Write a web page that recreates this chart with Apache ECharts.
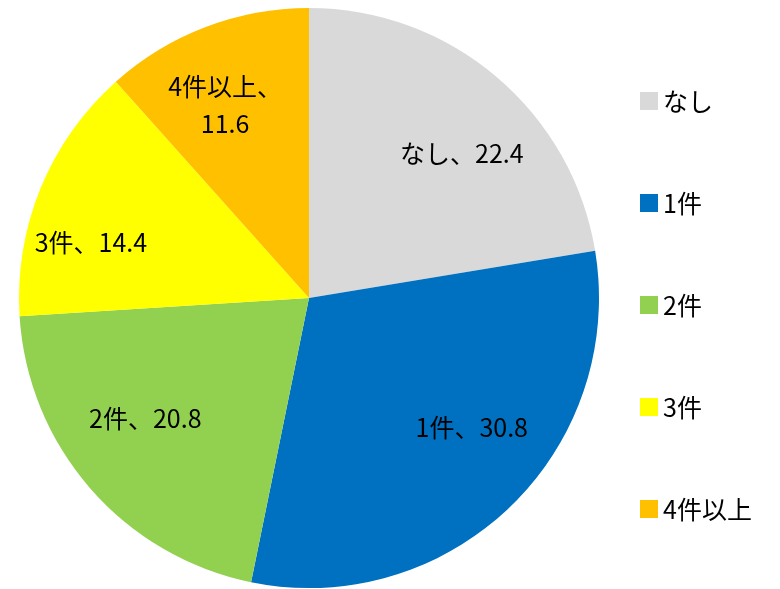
<!DOCTYPE html>
<html>
<head>
<meta charset="utf-8">
<script src="https://cdn.jsdelivr.net/npm/echarts@6/dist/echarts.min.js"></script>
<style>
  html, body { margin: 0; padding: 0; background: #fff; }
  #chart { width: 780px; height: 589px; }
</style>
</head>
<body>
<div id="chart"></div>
<script>
const categories = ['なし', '1件', '2件', '3件', '4件以上'];
const values = [22.4, 30.8, 20.8, 14.4, 11.6];
const colors = ['#D9D9D9', '#0070C0', '#92D050', '#FFFF00', '#FFC000'];

const font = '"Noto Sans CJK JP", "Noto Sans", sans-serif';
// small nudges so labels land where the original (Excel best-fit) put them
const labelNudge = [[15, 18], [15, -24], [-3, -19], [-21, 25], [-8, 6]];

let pieData = categories.map((c, i) => ({
  name: c,
  value: values[i],
  itemStyle: { color: colors[i] }
}));

// transparent ring that only carries the labels, so they sit ~72% out from centre
let labelData = categories.map((c, i) => ({
  name: c,
  value: values[i],
  itemStyle: { color: 'rgba(0,0,0,0)' },
  label: { offset: labelNudge[i] }
}));

var chart = echarts.init(document.getElementById('chart'));
chart.setOption({
  animation: false,
  legend: {
    orient: 'vertical',
    left: 635,
    top: 83,
    itemWidth: 18,
    itemHeight: 18,
    itemGap: 76,
    icon: 'rect',
    data: categories,
    textStyle: { fontFamily: font, fontSize: 25, color: '#000', lineHeight: 26 }
  },
  series: [
    {
      type: 'pie',
      center: [309, 298],
      radius: 290,
      startAngle: 90,
      clockwise: true,
      label: { show: false },
      labelLine: { show: false },
      emphasis: { disabled: true },
      data: pieData
    },
    {
      type: 'pie',
      center: [309, 298],
      radius: [140, 280],
      startAngle: 90,
      clockwise: true,
      silent: true,
      legendHoverLink: false,
      label: {
        show: true,
        position: 'inside',
        fontFamily: font,
        fontSize: 25,
        color: '#000',
        lineHeight: 37,
        formatter: p => p.name === '4件以上' ? p.name + '、\n' + p.value : p.name + '、' + p.value
      },
      labelLine: { show: false },
      emphasis: { disabled: true },
      data: labelData
    }
  ]
});
</script>
</body>
</html>
